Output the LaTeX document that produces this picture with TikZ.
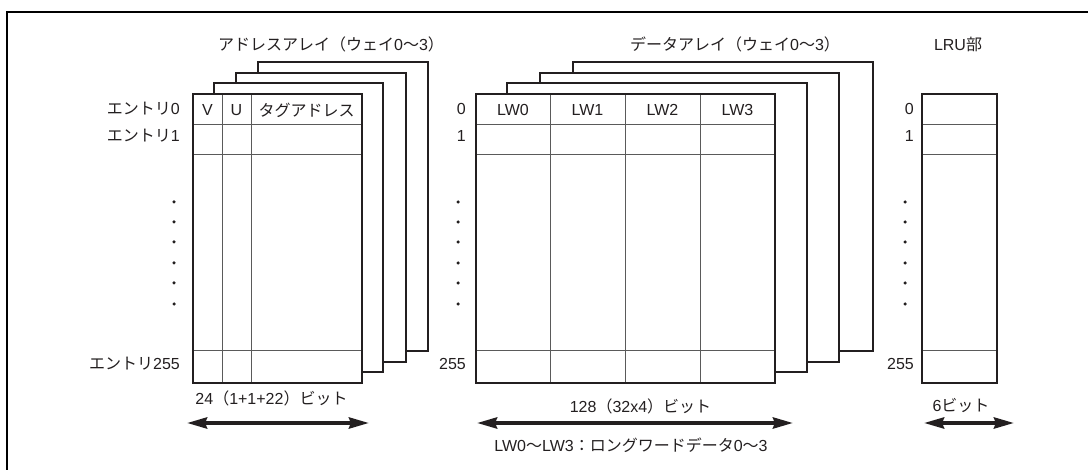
\documentclass[tikz,border=0pt]{standalone}
\usepackage{fontspec}
\setmainfont{Liberation Sans}
\newfontfamily\jp{Noto Sans CJK JP}
\usetikzlibrary{arrows.meta}
\definecolor{ink}{HTML}{231F20}
\definecolor{grid}{HTML}{5A5A5A}
\tikzset{
  layer/.style={draw=ink, line width=2pt, fill=white},
  gridline/.style={draw=grid, line width=1pt},
  lbl/.style={font=\fontsize{16}{16}\selectfont, text=ink, inner sep=0pt},
  dimarrow/.style={draw=ink, line width=3.8pt, {Stealth[length=20pt,width=11pt,inset=2pt]}-{Stealth[length=20pt,width=11pt,inset=2pt]}},
  vdot/.style={circle, fill=ink, inner sep=0pt, minimum size=3.5pt},
}
\begin{document}
\begin{tikzpicture}[x=1pt,y=-1pt]
\useasboundingbox (0,0) rectangle (1088,470);
% outer frame (only top and left visible)
\draw[black, line width=2.2pt] (7,480) -- (7,12) -- (1100,12);

% ---- Address array ----
\draw[layer] (258,62) rectangle (428,351);
\draw[layer] (236,73) rectangle (406,362);
\draw[layer] (214,83) rectangle (383,372);
\draw[layer] (193,94) rectangle (362,383);
\draw[gridline] (193,125) -- (362,125) (193,155) -- (362,155) (193,351) -- (362,351);
\draw[gridline] (222,94) -- (222,383) (251,94) -- (251,383);
\draw[layer, fill=none] (193,94) rectangle (362,383);

% ---- Data array ----
\draw[layer] (573,62) rectangle (873,351);
\draw[layer] (540,73) rectangle (839,362);
\draw[layer] (507,83) rectangle (807,372);
\draw[layer] (476,94) rectangle (775,383);
\draw[gridline] (476,125) -- (775,125) (476,155) -- (775,155) (476,351) -- (775,351);
\draw[gridline] (550,94) -- (550,383) (625,94) -- (625,383) (700,94) -- (700,383);
\draw[layer, fill=none] (476,94) rectangle (775,383);

% ---- LRU ----
\draw[layer] (922,94) rectangle (997,383);
\draw[gridline] (922,125) -- (997,125) (922,155) -- (997,155) (922,351) -- (997,351);
\draw[layer, fill=none] (922,94) rectangle (997,383);

% titles
\node[lbl] (tAddr) at (331,44) {{\jp アドレスアレイ（ウェイ}0{\jp 〜}3{\jp ）}};
\node[lbl] (tData) at (735,44) {{\jp データアレイ（ウェイ}0{\jp 〜}3{\jp ）}};
\node[lbl] (tLRU) at (958,44) {LRU{\jp 部}};

% row labels
\node[lbl, anchor=east] (e0) at (180,109) {{\jp エントリ}0};
\node[lbl, anchor=east] (e1) at (180,136) {{\jp エントリ}1};
\node[lbl, anchor=east] (e255) at (180,364) {{\jp エントリ}255};
\node[lbl, anchor=east] (d0) at (466,109) {0};
\node[lbl, anchor=east] (d1) at (466,136) {1};
\node[lbl, anchor=east] (d255) at (466,364) {255};
\node[lbl, anchor=east] (l0) at (914,109) {0};
\node[lbl, anchor=east] (l1) at (914,136) {1};
\node[lbl, anchor=east] (l255) at (914,364) {255};

% column labels
\node[lbl] (cV) at (207.5,110) {V};
\node[lbl] (cU) at (236.5,110) {U};
\node[lbl] (cTag) at (306.5,110) {{\jp タグアドレス}};
\node[lbl] (cLW0) at (513,110) {LW0};
\node[lbl] (cLW1) at (587.5,110) {LW1};
\node[lbl] (cLW2) at (662.5,110) {LW2};
\node[lbl] (cLW3) at (737.5,110) {LW3};

% vertical dots
\foreach \y [count=\i] in {202,222,242,263,283,304} {
  \node[vdot] (ad\i) at (174,\y) {};
  \node[vdot] (dd\i) at (458,\y) {};
  \node[vdot] (ld\i) at (905,\y) {};
}

% bit widths
\node[lbl] (wAddr) at (271.5,398) {24{\jp （}1+1+22{\jp ）ビット}};
\node[lbl] (wData) at (640.5,406) {128{\jp （}32x4{\jp ）ビット}};
\node[lbl] (wLRU) at (961,406) {6{\jp ビット}};
\coordinate (aL) at (187,423); \coordinate (aR) at (369,423);
\coordinate (dL) at (477,423); \coordinate (dR) at (793,423);
\coordinate (lL) at (924,423); \coordinate (lR) at (1014,423);
\draw[dimarrow] (aL) -- (aR);
\draw[dimarrow] (dL) -- (dR);
\draw[dimarrow] (lL) -- (lR);
\node[lbl] (note) at (631,445) {LW0{\jp 〜}LW3{\jp ：ロングワードデータ}0{\jp 〜}3};
\end{tikzpicture}
\end{document}
